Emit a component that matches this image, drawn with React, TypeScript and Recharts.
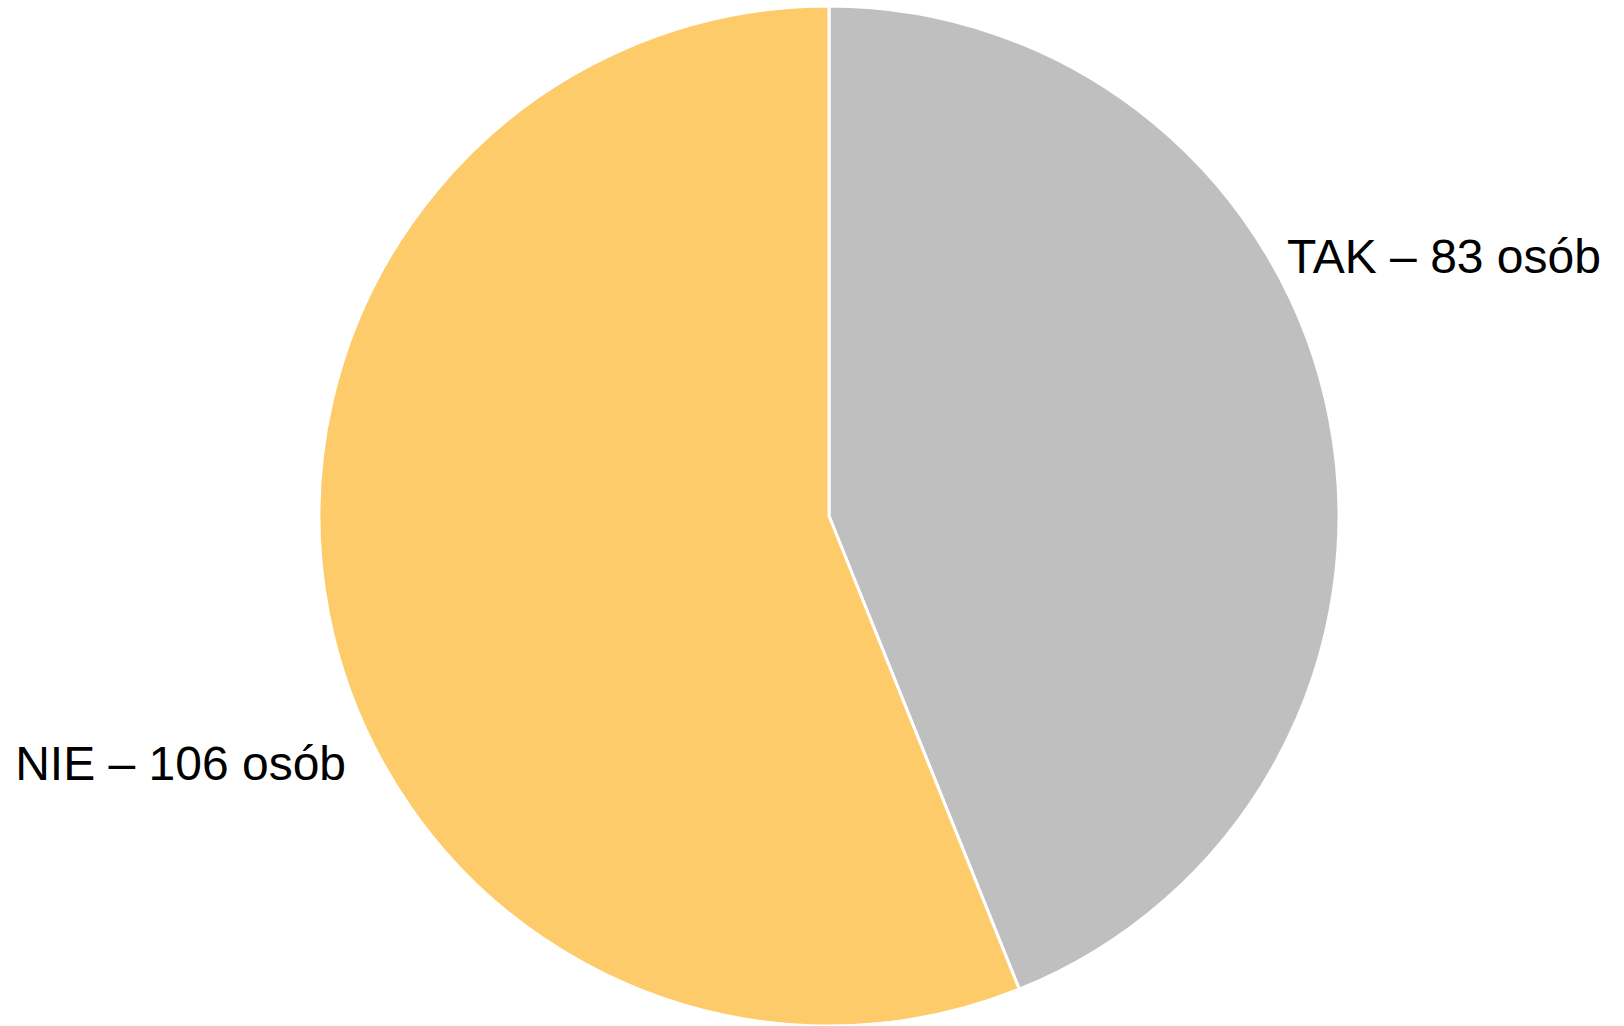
import { PieChart, Pie, Cell } from "recharts";

// answers
const categories = ["TAK", "NIE"];
const counts = [83, 106];
const colors = ["#bfbfbf", "#fecb6a"];
const unit = "osób";

const data = categories.map((name, i) => ({ name, value: counts[i] }));

// label placement relative to the pie radius
const labelDx = [0.898, -0.947];
const labelDy = [-0.477, 0.517];

const renderLabel = (props: any) => {
  const { cx, cy, outerRadius, index, name, value } = props;
  const x = cx + labelDx[index] * outerRadius;
  const y = cy + labelDy[index] * outerRadius;
  return (
    <text
      x={x}
      y={y}
      fill="#000"
      fontSize={48}
      fontFamily="'Liberation Sans', Arial, sans-serif"
      textAnchor={labelDx[index] > 0 ? "start" : "end"}
    >
      {`${name} – ${value} ${unit}`}
    </text>
  );
};

export default function App() {
  return (
    <div
      style={{
        position: "absolute",
        left: 0,
        top: 0,
        width: 1624,
        height: 1026,
        background: "#fff",
      }}
    >
      <PieChart width={1624} height={1026} margin={{ top: 0, right: 0, bottom: 0, left: 0 }}>
        <Pie
          data={data}
          dataKey="value"
          nameKey="name"
          cx={829}
          cy={516}
          outerRadius={510}
          startAngle={90}
          endAngle={-270}
          stroke="#fff"
          strokeWidth={3}
          label={renderLabel}
          labelLine={false}
          isAnimationActive={false}
        >
          {data.map((entry, index) => (
            <Cell key={`cell-${index}`} fill={colors[index]} />
          ))}
        </Pie>
      </PieChart>
    </div>
  );
}
